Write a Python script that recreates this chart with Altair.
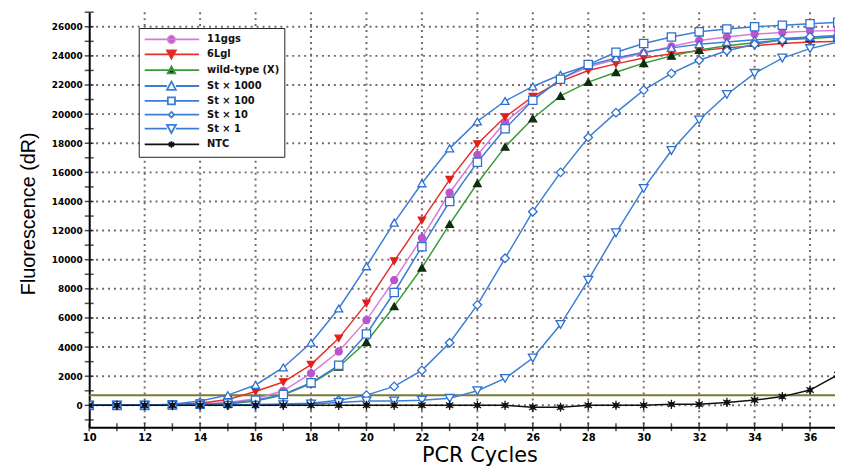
import altair as alt
import pandas as pd

# ---------------- data ----------------
cycles = list(range(10, 38))
series_names = ["11ggs", "6Lgl", "wild-type (X)", "St × 1000", "St × 100", "St × 10", "St × 1", "NTC"]

ggs11 = [0, 0, 0, 50, 100, 200, 450, 1000, 2200, 3700, 5850, 8600, 11500, 14600, 17200, 19450,
         21000, 22400, 23250, 23750, 24200, 24650, 25050, 25300, 25500, 25600, 25700, 25750]
lgl6 = [0, 0, 0, 50, 150, 400, 950, 1600, 2800, 4600, 7000, 9900, 12700, 15500, 17950, 19800,
        21200, 22250, 23000, 23450, 23850, 24150, 24350, 24550, 24700, 24850, 24950, 25000]
wild = [0, 0, 0, 0, 50, 100, 300, 700, 1500, 2650, 4350, 6800, 9450, 12450, 15250, 17750,
        19700, 21250, 22200, 22880, 23500, 24000, 24400, 24700, 24900, 25100, 25200, 25300]
st1000 = [0, 0, 0, 80, 300, 700, 1400, 2600, 4300, 6650, 9550, 12550, 15250, 17650, 19500, 20900,
          21900, 22700, 23350, 23850, 24250, 24550, 24800, 24950, 25100, 25200, 25300, 25350]
st100 = [0, 0, 0, 30, 80, 150, 350, 750, 1550, 2750, 4900, 7750, 10900, 14000, 16700, 19000,
         20950, 22400, 23400, 24250, 24850, 25300, 25650, 25850, 26000, 26100, 26200, 26300]
st10 = [0, 0, 0, 0, 0, 20, 50, 100, 150, 350, 700, 1300, 2400, 4300, 6900, 10100,
        13300, 16000, 18400, 20100, 21650, 22800, 23700, 24350, 24800, 25100, 25300, 25400]
st1 = [0, 0, 0, 0, 0, 0, 0, 50, 100, 200, 300, 300, 350, 480, 1000, 1850,
       3250, 5550, 8600, 11850, 14900, 17500, 19600, 21350, 22800, 23850, 24500, 24950]
ntc = [0, 0, 0, 0, 0, 0, 0, 0, 0, 0, 0, 0, 0, 0, 0, 0,
       -130, -130, 0, 0, 0, 70, 70, 200, 360, 600, 1050, 2100]

threshold = [700]
x_label_values = list(range(10, 37, 2))
x_grid_values = list(range(12, 37, 2))
x_tick_values = list(range(10, 37))
y_label_values = list(range(0, 26001, 2000))
y_grid_values = list(range(0, 26001, 2000))
y_tick_values = list(range(-1000, 27001, 1000))
x_min, x_max = 10, 36.9
y_min, y_max = -1500, 27000

all_series = [ggs11, lgl6, wild, st1000, st100, st10, st1, ntc]

# ---------------- styles ----------------
line_colors = ["#d77bd6", "#e5302a", "#3a9a3a", "#3b7fd4", "#3b7fd4", "#3b7fd4", "#3b7fd4", "#111111"]
marker_fill = ["#bb55cc", "#e0201c", "#0e2e0e", "#ffffff", "#ffffff", "#ffffff", "#ffffff", "#111111"]
marker_stroke = ["#bb55cc", "#e0201c", "#0e2e0e", "#2f6fd0", "#2f6fd0", "#2f6fd0", "#2f6fd0", "#111111"]
asterisk = ("M0.45,0A0.45,0.45 0 1,1 -0.45,0A0.45,0.45 0 1,1 0.45,0Z"
            "M0,-1V1M-0.8,-0.6L0.8,0.6M-0.8,0.6L0.8,-0.6")
plot_shapes = ["circle", "triangle-down", "triangle-up", "triangle-up", "square", "diamond",
               "triangle-down", asterisk]
plot_sizes = [50, 85, 45, 95, 56, 30, 90, 40]

# legend symbols: a line segment with the marker in the middle (built in pixel units)
LEG_SIZE = 121
U = (LEG_SIZE ** 0.5) / 2.0
L0, L1, MC = -5.5, 49.5, 21.5


def u(v):
    return f"{v / U:.3f}"


def line_path(gap=0.0):
    if gap:
        return f"M{u(L0)},0H{u(MC - gap)}M{u(MC + gap)},0H{u(L1)}"
    return f"M{u(L0)},0H{u(L1)}"


def tri_up(h):
    return f"M{u(MC - h)},{u(h * 0.85)}L{u(MC + h)},{u(h * 0.85)}L{u(MC)},{u(-h)}Z"


def tri_down(h):
    return f"M{u(MC - h)},{u(-h * 0.85)}L{u(MC + h)},{u(-h * 0.85)}L{u(MC)},{u(h)}Z"


def circ(r):
    return f"M{u(MC + r)},0A{u(r)},{u(r)} 0 1,1 {u(MC - r)},0A{u(r)},{u(r)} 0 1,1 {u(MC + r)},0Z"


def square(h):
    return f"M{u(MC - h)},{u(-h)}H{u(MC + h)}V{u(h)}H{u(MC - h)}Z"


def diamond(h):
    return f"M{u(MC)},{u(-h)}L{u(MC + h)},0L{u(MC)},{u(h)}L{u(MC - h)},0Z"


def star(h):
    return (circ(1.4) + f"M{u(MC)},{u(-h)}V{u(h)}"
            f"M{u(MC - h * 0.8)},{u(-h * 0.6)}L{u(MC + h * 0.8)},{u(h * 0.6)}"
            f"M{u(MC - h * 0.8)},{u(h * 0.6)}L{u(MC + h * 0.8)},{u(-h * 0.6)}")


legend_shapes = [
    line_path() + circ(3.6),
    line_path() + tri_down(4.5),
    line_path() + tri_up(3.8),
    line_path(4.5) + tri_up(4.5),
    line_path(3.6) + square(3.6),
    line_path(2.8) + diamond(2.8),
    line_path(4.5) + tri_down(4.5),
    line_path() + star(3.3),
]

rows = []
for name, vals in zip(series_names, all_series):
    for c, v in zip(cycles, vals):
        rows.append({"cycle": c, "value": v, "series": name})
df = pd.DataFrame(rows)

xscale = alt.Scale(domain=[x_min, x_max], nice=False, zero=False)
yscale = alt.Scale(domain=[y_min, y_max], nice=False, zero=False)

x_axis = alt.Axis(values=x_label_values, title="PCR Cycles", labelFontSize=10, labelFontWeight="bold",
                  labelFont="DejaVu Sans", labelPadding=5, labelFlush=False, labelOverlap=False,
                  titleFont="DejaVu Sans", titleFontSize=21, titleFontWeight="normal", titlePadding=3,
                  titleX=394, titleAlign="center", format="d", grid=False)
y_axis = alt.Axis(values=y_label_values, title="Fluorescence (dR)", labelFontSize=9,
                  labelFont="DejaVu Sans", labelFontWeight="bold", labelPadding=7, labelFlush=False,
                  labelOverlap=False, titleFont="Liberation Sans", titleFontSize=20,
                  titleFontWeight="normal", titleX=-51, titleY=203, titleAngle=270, format="d",
                  grid=False)

X = alt.X("cycle:Q", scale=xscale, axis=x_axis)
Y = alt.Y("value:Q", scale=yscale, axis=y_axis)

grid_color = "#7a6868"
grid_x = alt.Chart(pd.DataFrame({"cycle": x_grid_values})).mark_rule(
    stroke=grid_color, strokeWidth=2, strokeDash=[2, 4], opacity=1).encode(x=X)
grid_y = alt.Chart(pd.DataFrame({"value": y_grid_values})).mark_rule(
    stroke=grid_color, strokeWidth=2, strokeDash=[2, 4], opacity=1).encode(y=Y)

thr = alt.Chart(pd.DataFrame({"value": threshold})).mark_rule(color="#7a7a35", strokeWidth=2).encode(y=Y)

lines = alt.Chart(df).mark_line(strokeWidth=1.5, clip=True).encode(
    x=X, y=Y,
    stroke=alt.Stroke("series:N", scale=alt.Scale(domain=series_names, range=line_colors), legend=None),
    order=alt.Order("cycle:Q"),
)

points = alt.Chart(df).mark_point(filled=True, opacity=1, strokeWidth=1.3, clip=True).encode(
    x=X, y=Y,
    shape=alt.Shape("series:N", scale=alt.Scale(domain=series_names, range=plot_shapes), legend=None),
    fill=alt.Fill("series:N", scale=alt.Scale(domain=series_names, range=marker_fill), legend=None),
    stroke=alt.Stroke("series:N", scale=alt.Scale(domain=series_names, range=marker_stroke), legend=None),
    size=alt.Size("series:N", scale=alt.Scale(domain=series_names, range=plot_sizes), legend=None),
)

leg = alt.Legend(orient="none", legendX=50, legendY=16, title=None, symbolSize=LEG_SIZE,
                 symbolStrokeWidth=1.8, labelFont="DejaVu Sans", labelFontWeight="bold",
                 labelFontSize=10, labelOffset=51, rowPadding=0, padding=5,
                 strokeColor="#222222", fillColor="#ffffff", labelColor="#111111")

legend_layer = alt.Chart(df).transform_filter("datum.cycle < 0").mark_point(
    filled=True, opacity=1).encode(
    x=X, y=Y,
    shape=alt.Shape("series:N", scale=alt.Scale(domain=series_names, range=legend_shapes), legend=leg),
    fill=alt.Fill("series:N", scale=alt.Scale(domain=series_names, range=marker_fill), legend=leg),
    stroke=alt.Stroke("series:N", scale=alt.Scale(domain=series_names, range=line_colors), legend=leg),
)

xt = alt.Chart(pd.DataFrame({"cycle": x_tick_values, "value": [y_min] * len(x_tick_values)})).mark_tick(
    orient="vertical", size=8, thickness=1.5, color="black").encode(x=X, y=Y)
yt = alt.Chart(pd.DataFrame({"value": y_tick_values, "cycle": [x_min] * len(y_tick_values)})).mark_tick(
    orient="horizontal", size=9, thickness=1.5, color="black").encode(x=X, y=Y)

chart = alt.layer(grid_x, grid_y, thr, lines, points, legend_layer, xt, yt).resolve_scale(
    shape="independent", fill="independent", stroke="independent", size="independent"
).properties(
    width=753, height=419,
    padding={"left": 82, "top": 2, "right": 0, "bottom": 42},
    autosize=alt.AutoSizeParams(type="none"),
).configure_view(stroke=None).configure_axis(
    domainColor="black", domainWidth=2, ticks=False,
    labelColor="black", titleColor="black",
)

chart.save("out.html", embed_options={"renderer": "svg", "actions": False})
